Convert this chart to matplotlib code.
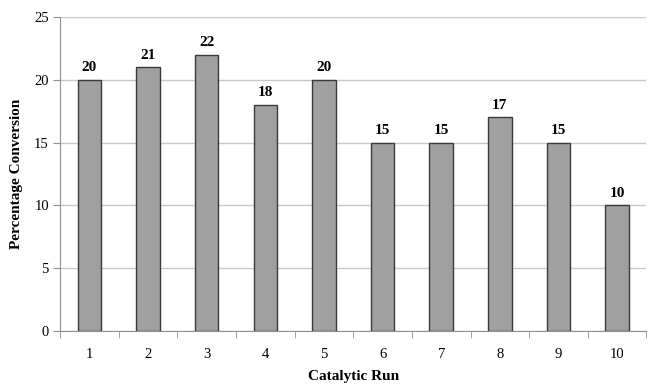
import matplotlib.pyplot as plt
import numpy as np

runs = ['1', '2', '3', '4', '5', '6', '7', '8', '9', '10']
conversion = [20, 21, 22, 18, 20, 15, 15, 17, 15, 10]

plt.rcParams['font.family'] = ['Liberation Serif', 'DejaVu Serif']

fig = plt.figure(figsize=(6.48, 3.87), dpi=100, facecolor='w')
ax = fig.add_axes([0.0926, 0.1447, 0.905, 0.8113])

x = np.arange(len(runs))
ax.bar(x, conversion, width=0.4, color='#a0a0a0', edgecolor='#3a3a3a', linewidth=1.0, zorder=3)

for xi, v in zip(x, conversion):
    ax.annotate(str(v), xy=(xi, v), xytext=(0, 4), textcoords='offset points',
                ha='center', va='bottom', fontsize=11, fontweight='bold')

ax.set_xlim(-0.5, len(runs) - 0.5)
ax.set_ylim(0, 25)
ax.set_yticks([0, 5, 10, 15, 20, 25])
ax.yaxis.grid(color='#c8c8c8', linewidth=1.0, zorder=0)
ax.tick_params(axis='y', length=5, color='#909090', labelsize=10.5, pad=3)

ax.set_xticks(x)
ax.set_xticklabels(runs, fontsize=10.5)
ax.set_xticks(np.arange(-0.5, len(runs)), minor=True)
ax.tick_params(axis='x', which='major', length=0, pad=12)
ax.tick_params(axis='x', which='minor', length=5, color='#909090')

for s in ['top', 'right']:
    ax.spines[s].set_visible(False)
ax.spines['left'].set_color('#909090')
ax.spines['bottom'].set_color('#909090')

ax.set_xlabel('Catalytic Run', fontsize=11, fontweight='bold', labelpad=7)
ax.set_ylabel('Percentage Conversion', fontsize=11, fontweight='bold', labelpad=8)

plt.savefig('out.png', dpi=100)
